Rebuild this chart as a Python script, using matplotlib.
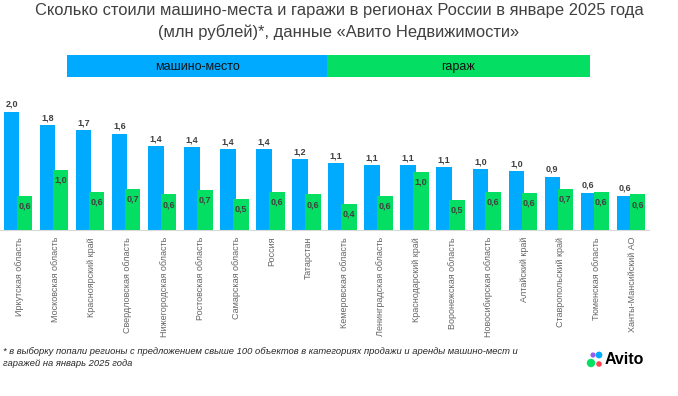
import numpy as np
import matplotlib.pyplot as plt
from matplotlib.patches import Rectangle, Ellipse

plt.rcParams['font.family'] = ['Liberation Sans', 'DejaVu Sans']

regions = ["Иркутская область", "Московская область", "Красноярский край",
           "Свердловская область", "Нижегородская область", "Ростовская область",
           "Самарская область", "Россия", "Татарстан", "Кемеровская область",
           "Ленинградская область", "Краснодарский край", "Воронежская область",
           "Новосибирская область", "Алтайский край", "Ставропольский край",
           "Тюменская область", "Ханты-Мансийский АО"]
parking = [2.00, 1.77, 1.69, 1.63, 1.42, 1.40, 1.37, 1.36, 1.20, 1.13,
           1.10, 1.09, 1.06, 1.03, 1.00, 0.90, 0.63, 0.58]
garage = [0.57, 1.01, 0.64, 0.69, 0.60, 0.68, 0.53, 0.64, 0.60, 0.44,
          0.57, 0.98, 0.50, 0.64, 0.63, 0.69, 0.64, 0.60]

blue = "#00AAFF"
green = "#04DE62"
W, H = 678, 396

fig = plt.figure(figsize=(W / 100, H / 100), dpi=100)

def fx(px):
    return px / W

def fy(py):
    return 1 - py / H

# title
fig.text(fx(339), fy(11), "Сколько стоили машино-места и гаражи в регионах России в январе 2025 года",
         ha='center', va='center', fontsize=11.9, color='#404040')
fig.text(fx(339), fy(32), "(млн рублей)*, данные «Авито Недвижимости»",
         ha='center', va='center', fontsize=11.9, color='#404040')

# legend bar
fig.patches.append(Rectangle((fx(67), fy(77)), fx(327) - fx(67), (77 - 55) / H,
                             transform=fig.transFigure, color=blue, lw=0))
fig.patches.append(Rectangle((fx(327), fy(77)), fx(590) - fx(327), (77 - 55) / H,
                             transform=fig.transFigure, color=green, lw=0))
fig.text(fx(197), fy(67), "машино-место", ha='center', va='center', fontsize=9, color='#111111')
fig.text(fx(458), fy(67), "гараж", ha='center', va='center', fontsize=9, color='#111111')

ax = fig.add_axes([0, fy(230), 649 / W, 2.2 * 59.2 / H])
x = np.arange(len(regions))
ax.bar(x - 0.18, parking, width=0.43, color=blue, zorder=2)
ax.bar(x + 0.18, garage, width=0.43, color=green, zorder=3)

for i in range(len(regions)):
    ax.annotate(f"{parking[i]:.1f}".replace('.', ','), (x[i] - 0.18, parking[i]),
                xytext=(0, 2), textcoords='offset points', ha='center', va='bottom',
                fontsize=6.5, fontweight='bold', color='#404040')
    ax.annotate(f"{garage[i]:.1f}".replace('.', ','), (x[i] + 0.18, garage[i]),
                xytext=(0, -4), textcoords='offset points', ha='center', va='top',
                fontsize=6.5, fontweight='bold', color='#404040', zorder=4)

ax.set_xlim(-0.5, 17.5)
ax.set_ylim(0, 2.2)
ax.set_xticks(x + 0.05)
ax.set_xticklabels(regions, rotation=90, fontsize=6.5, color='#666666')
ax.tick_params(axis='x', length=0, pad=5)
ax.set_yticks([])
for s in ['top', 'right', 'left']:
    ax.spines[s].set_visible(False)
ax.spines['bottom'].set_color('#d9d9d9')
ax.patch.set_alpha(0)

# footnote
fig.text(fx(3), fy(352), "* в выборку попали регионы с предложением свыше 100 объектов в категориях продажи и аренды машино-мест и",
         ha='left', va='center', fontsize=6.75, style='italic', color='#262626')
fig.text(fx(3), fy(364), "гаражей на январь 2025 года",
         ha='left', va='center', fontsize=6.75, style='italic', color='#262626')

# logo
for (cx, cy, r, c) in [(593, 355, 2.6, '#965EEB'), (599, 355, 3.4, '#00AAFF'),
                       (591, 363, 4.2, '#04E061'), (599, 364, 2.8, '#FF4053')]:
    fig.patches.append(Ellipse((fx(cx), fy(cy)), 2 * r / W, 2 * r / H,
                               transform=fig.transFigure, color=c, lw=0))
fig.text(fx(605), fy(359), "Avito", ha='left', va='center', fontsize=11.5,
         fontweight='bold', color='black')

fig.savefig("out.png", dpi=100)
